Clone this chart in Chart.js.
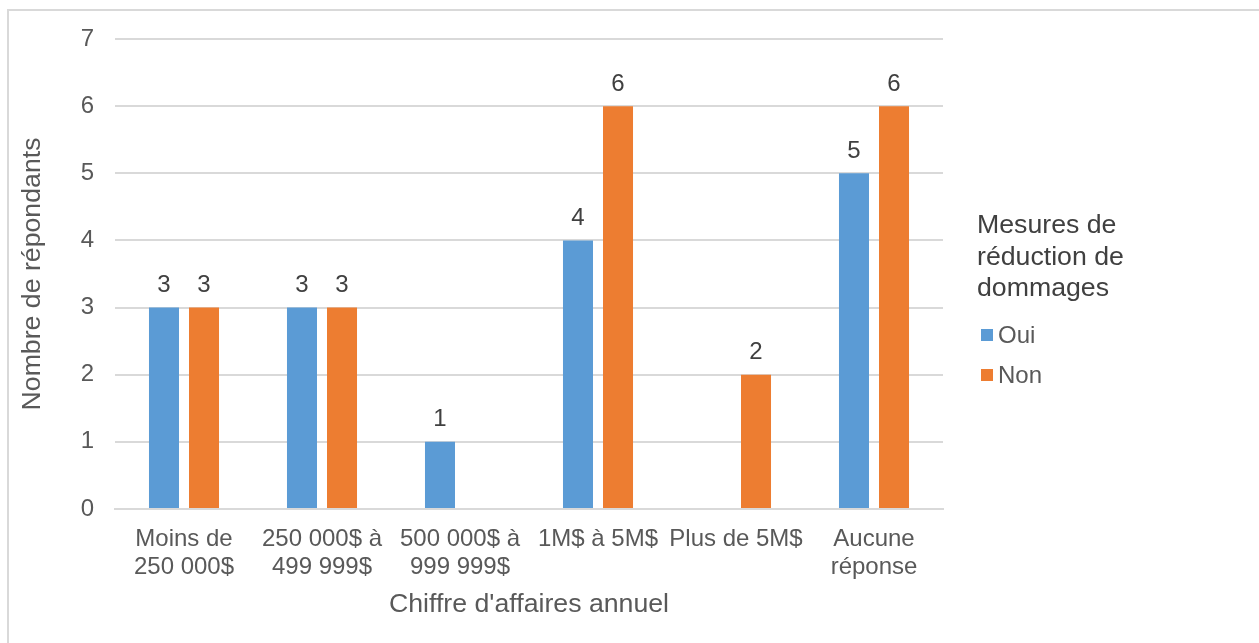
<!DOCTYPE html>
<html>
<head>
<meta charset="utf-8">
<script src="https://cdn.jsdelivr.net/npm/chart.js@4.4.1/dist/chart.umd.min.js"></script>
<style>
  body { margin: 0; background: #fff; }
  #frame { position: absolute; left: 7px; top: 9px; width: 1300px; height: 700px; border: 2px solid #d9d9d9; }
  #wrap { position: absolute; left: 0; top: 0; width: 1259px; height: 643px; }
</style>
</head>
<body>
<div id="frame"></div>
<div id="wrap"><canvas id="revenue"></canvas></div>
<script>
var categories = [['Moins de', '250 000$'], ['250 000$ à', '499 999$'], ['500 000$ à', '999 999$'], '1M$ à 5M$', 'Plus de 5M$', ['Aucune', 'réponse']];
var ouiValues = [3, 3, 1, 4, 0, 5];
var nonValues = [3, 3, 0, 6, 2, 6];
var yTicks = [0, 1, 2, 3, 4, 5, 6, 7];
var legendTitle = ['Mesures de', 'réduction de', 'dommages'];

var textColor = '#595959';
var fontFamily = "'Liberation Sans', Arial, sans-serif";

// value labels above bars
var valueLabels = {
  id: 'valueLabels',
  afterDatasetsDraw: function(chart) {
    var ctx = chart.ctx;
    ctx.save();
    ctx.font = '24px ' + fontFamily;
    ctx.fillStyle = '#404040';
    ctx.textAlign = 'center';
    ctx.textBaseline = 'middle';
    chart.data.datasets.forEach(function(ds, i) {
      chart.getDatasetMeta(i).data.forEach(function(bar, j) {
        if (ds.data[j] > 0) {
          ctx.fillText(ds.data[j], bar.x, bar.y - 22);
        }
      });
    });
    ctx.restore();
  }
};

// legend on the right, with a title on three lines
var sideLegend = {
  id: 'sideLegend',
  afterDraw: function(chart) {
    var ctx = chart.ctx;
    var x = 977;
    ctx.save();
    ctx.textBaseline = 'middle';
    ctx.textAlign = 'left';
    ctx.font = '26.7px ' + fontFamily;
    ctx.fillStyle = '#404040';
    legendTitle.forEach(function(line, i) {
      ctx.fillText(line, x, 226 + i * 31.5);
    });
    ctx.font = '24px ' + fontFamily;
    chart.data.datasets.forEach(function(ds, i) {
      var y = 336 + i * 40;
      ctx.fillStyle = ds.backgroundColor;
      ctx.fillRect(x + 4, y - 7, 12, 12);
      ctx.fillStyle = textColor;
      ctx.fillText(ds.label, x + 21, y);
    });
    ctx.restore();
  }
};

var chart = new Chart(document.getElementById('revenue'), {
  type: 'bar',
  data: {
    labels: categories,
    datasets: [{
      label: 'Oui',
      data: ouiValues,
      backgroundColor: '#5B9BD5',
      categoryPercentage: 0.58,
      barPercentage: 0.75
    }, {
      label: 'Non',
      data: nonValues,
      backgroundColor: '#ED7D31',
      categoryPercentage: 0.58,
      barPercentage: 0.75
    }]
  },
  options: {
    responsive: true,
    maintainAspectRatio: false,
    animation: false,
    layout: { padding: { top: 39, right: 316, bottom: 0, left: 0 } },
    plugins: {
      legend: { display: false },
      tooltip: { enabled: false }
    },
    scales: {
      x: {
        grid: { display: false },
        border: { color: '#d9d9d9', width: 2 },
        ticks: {
          color: textColor,
          font: { size: 24, family: fontFamily, lineHeight: 1.17 },
          padding: 8,
          maxRotation: 0,
          autoSkip: false
        },
        title: {
          display: true,
          text: "Chiffre d'affaires annuel",
          color: textColor,
          font: { size: 26.7, family: fontFamily },
          padding: { top: 4, bottom: 22 }
        },
        afterFit: function(scale) { scale.height = 134; }
      },
      y: {
        min: 0,
        max: 7,
        afterBuildTicks: function(scale) {
          scale.ticks = yTicks.map(function(v) { return { value: v }; });
        },
        grid: { color: '#d9d9d9', lineWidth: 2, drawTicks: false },
        border: { display: false },
        ticks: {
          color: textColor,
          font: { size: 24, family: fontFamily },
          padding: 21
        },
        title: {
          display: true,
          text: 'Nombre de répondants',
          color: textColor,
          font: { size: 26.7, family: fontFamily },
          padding: { top: 17, bottom: 0 }
        },
        afterFit: function(scale) { scale.width = 115; }
      }
    }
  },
  plugins: [valueLabels, sideLegend]
});
</script>
</body>
</html>
